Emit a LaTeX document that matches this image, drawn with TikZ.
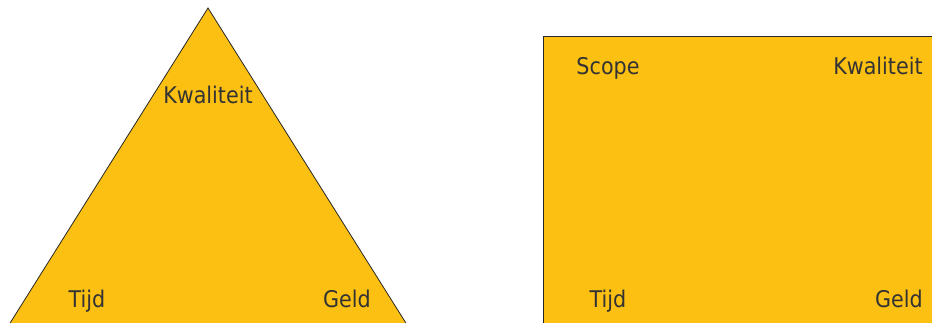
\documentclass[tikz,border=0pt]{standalone}
\usepackage{fontspec}
\setmainfont{DejaVu Sans Condensed}
\definecolor{gold}{RGB}{251,192,18}
\definecolor{txt}{RGB}{51,51,51}
\begin{document}
\begin{tikzpicture}[x=1pt,y=-1pt,
  lbl/.style={anchor=base,inner sep=0pt,text=txt,font=\fontsize{23}{23}\selectfont},
  shapeborder/.style={draw=black!85,line width=0.8pt,fill=gold}]
\useasboundingbox (0,0) rectangle (932,323);
\begin{scope}
\clip (0,0) rectangle (932,323);
\coordinate (apex) at (208,8);
\coordinate (bl) at (-10,355);
\coordinate (br) at (426,355);
\draw[shapeborder] (apex) -- (br) -- (bl) -- cycle;
\coordinate (rtl) at (543,37);
\coordinate (rbr) at (945,340);
\draw[shapeborder,line width=1pt] (rtl) rectangle (rbr);
\end{scope}
\node[lbl] (tk) at (208,104) {Kwaliteit};
\node[lbl] (tt) at (87,307) {Tijd};
\node[lbl] (tg) at (347,307) {Geld};
\node[lbl] (rs) at (608,75) {Scope};
\node[lbl] (rk) at (878,75) {Kwaliteit};
\node[lbl] (rt) at (608,307) {Tijd};
\node[lbl] (rg) at (899,307) {Geld};
\end{tikzpicture}
\end{document}
